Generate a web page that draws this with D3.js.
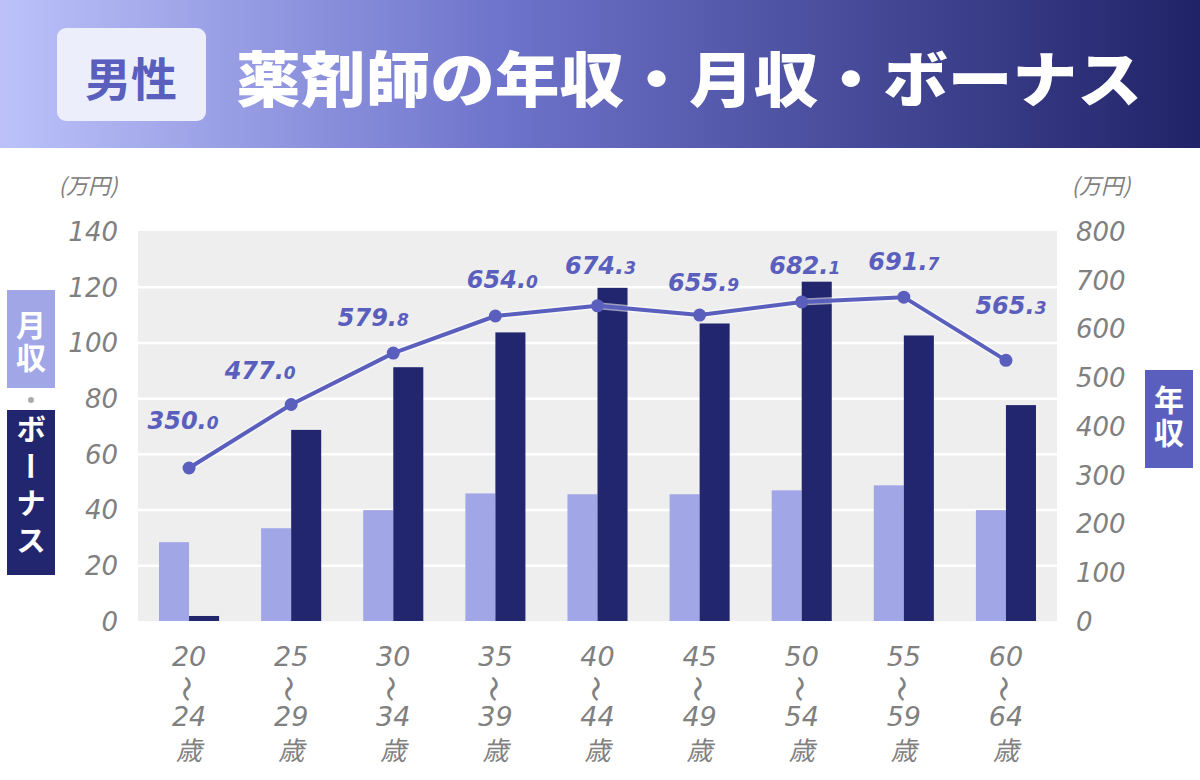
<!DOCTYPE html>
<html>
<head>
<meta charset="utf-8">
<script src="https://cdn.jsdelivr.net/npm/d3@7/dist/d3.min.js"></script>
<style>
  html, body { margin: 0; padding: 0; background: #ffffff; }
  svg { display: block; }
</style>
</head>
<body>
<svg id="chart" width="1200" height="780"></svg>
<script>
// ---- data ----
const ageStart = ["20", "25", "30", "35", "40", "45", "50", "55", "60"];
const ageEnd   = ["24", "29", "34", "39", "44", "49", "54", "59", "64"];
const categories = ageStart.map((s, i) => s + "〜" + ageEnd[i] + "歳");
const monthlyPay = [28.3, 33.3, 39.8, 45.8, 45.5, 45.5, 46.9, 48.7, 39.8];   // 月収 (万円)
const bonusPay   = [1.8, 68.6, 91.1, 103.6, 119.6, 106.8, 121.8, 102.5, 77.5]; // ボーナス (万円)
const annualPay  = [350.0, 477.0, 579.8, 654.0, 674.3, 655.9, 682.1, 691.7, 565.3]; // 年収 (万円)
const leftTicks  = [0, 20, 40, 60, 80, 100, 120, 140];
const rightTicks = [0, 100, 200, 300, 400, 500, 600, 700, 800];

// ---- layout (not data) ----
const plot = { left: 138, right: 1057, top: 231, bottom: 621 };
const labelNudge = [[-6, -48], [-31, -35], [-20, -36], [7, -37], [3, -41], [4, -33], [3, -37], [0, -36], [5, -55]];
const C = {
  monthly: "#a0a6e6", bonus: "#22266e", line: "#5a5fbd",
  plotBg: "#eeeeee", axisText: "#808080"
};
const numFont = "'DejaVu Sans', Verdana, sans-serif";
const jpFont = "'Noto Sans CJK JP', 'Noto Sans', sans-serif";

const svg = d3.select("#chart");

// ---- header ----
const defs = svg.append("defs");
const grad = defs.append("linearGradient").attr("id", "hdr").attr("x1", "0").attr("x2", "1").attr("y1", "0").attr("y2", "0");
grad.append("stop").attr("offset", "0").attr("stop-color", "#bcc2f9");
grad.append("stop").attr("offset", "0.42").attr("stop-color", "#6e73cb");
grad.append("stop").attr("offset", "1").attr("stop-color", "#212368");
svg.append("rect").attr("x", 0).attr("y", 0).attr("width", 1200).attr("height", 148).attr("fill", "url(#hdr)");
svg.append("rect").attr("x", 57).attr("y", 28).attr("width", 149).attr("height", 93).attr("rx", 9)
  .attr("fill", "#eceefc");
svg.append("text").attr("x", 131).attr("y", 76).attr("text-anchor", "middle").attr("dominant-baseline", "central")
  .attr("font-family", jpFont).attr("font-weight", 700).attr("font-size", 46).attr("fill", C.line)
  .text("男性");
svg.append("text").attr("x", 236).attr("y", 75).attr("dominant-baseline", "central")
  .attr("font-family", jpFont).attr("font-weight", 900).attr("font-size", 60).attr("fill", "#ffffff")
  .attr("textLength", 906).attr("lengthAdjust", "spacingAndGlyphs")
  .text("薬剤師の年収・月収・ボーナス");

// ---- scales ----
const x = d3.scaleBand().domain(categories).range([plot.left, plot.right]).padding(0);
const xSub = d3.scaleBand().domain(["monthly", "bonus"]).range([0, x.bandwidth()]).paddingInner(0).paddingOuter(0.7);
const yL = d3.scaleLinear().domain([0, 140]).range([plot.bottom, plot.top]);
const yR = d3.scaleLinear().domain([0, 800]).range([plot.bottom, plot.top]);
// the line in the reference sits on its own (offset) scale
const yLine = d3.scaleLinear().domain([0, 800]).range([643, 243]);

// ---- plot background & grid ----
svg.append("rect").attr("x", plot.left).attr("y", plot.top)
  .attr("width", plot.right - plot.left).attr("height", plot.bottom - plot.top).attr("fill", C.plotBg);

const grid = svg.append("g").attr("transform", `translate(${plot.left},0)`)
  .call(d3.axisLeft(yL).tickValues(leftTicks.filter(t => t > 0 && t < 140)).tickSize(-(plot.right - plot.left)).tickFormat(""));
grid.select(".domain").remove();
grid.selectAll("line").attr("stroke", "#ffffff").attr("stroke-width", 2.5);

// ---- bars ----
const groups = svg.append("g").selectAll("g").data(categories).join("g")
  .attr("transform", d => `translate(${x(d)},0)`);
groups.append("rect")
  .attr("x", xSub("monthly")).attr("width", xSub.bandwidth())
  .attr("y", (d, i) => yL(monthlyPay[i])).attr("height", (d, i) => yL(0) - yL(monthlyPay[i]))
  .attr("fill", C.monthly);
groups.append("rect")
  .attr("x", xSub("bonus")).attr("width", xSub.bandwidth())
  .attr("y", (d, i) => yL(bonusPay[i])).attr("height", (d, i) => yL(0) - yL(bonusPay[i]))
  .attr("fill", C.bonus);

// ---- line ----
const cx = d => x(d) + x.bandwidth() / 2;
const lineGen = d3.line().x((d, i) => cx(categories[i])).y(d => yLine(d));
svg.append("path").datum(annualPay).attr("d", lineGen).attr("fill", "none")
  .attr("stroke", "rgba(255,255,255,0.55)").attr("stroke-width", 7).attr("stroke-linejoin", "round");
svg.append("path").datum(annualPay).attr("d", lineGen).attr("fill", "none")
  .attr("stroke", C.line).attr("stroke-width", 4).attr("stroke-linejoin", "round");
svg.append("g").selectAll("circle").data(annualPay).join("circle")
  .attr("cx", (d, i) => cx(categories[i])).attr("cy", d => yLine(d)).attr("r", 6.5)
  .attr("fill", C.line);

// ---- line labels ----
const lbl = svg.append("g").selectAll("text").data(annualPay).join("text")
  .attr("x", (d, i) => cx(categories[i]) + labelNudge[i][0])
  .attr("y", (d, i) => yLine(d) + labelNudge[i][1] + 9)
  .attr("text-anchor", "middle")
  .attr("font-family", numFont).attr("font-weight", 700).attr("font-style", "italic")
  .attr("fill", C.line);
lbl.append("tspan").attr("font-size", 24).text(d => d.toFixed(1).split(".")[0] + ".");
lbl.append("tspan").attr("font-size", 17).text(d => d.toFixed(1).split(".")[1]);

// ---- axes ----
const axL = svg.append("g").attr("transform", `translate(${plot.left - 20},0)`)
  .call(d3.axisLeft(yL).tickValues(leftTicks).tickSize(0).tickPadding(0));
axL.select(".domain").remove();
axL.selectAll("text").attr("font-family", numFont).attr("font-style", "italic").attr("font-size", 26)
  .attr("fill", C.axisText).attr("dy", "0.36em");

const axR = svg.append("g").attr("transform", `translate(${plot.right + 19},0)`)
  .call(d3.axisRight(yR).tickValues(rightTicks).tickSize(0).tickPadding(0));
axR.select(".domain").remove();
axR.selectAll("text").attr("font-family", numFont).attr("font-style", "italic").attr("font-size", 26)
  .attr("fill", C.axisText).attr("dy", "0.36em");

// units
[[88, "(万円)"], [1101, "(万円)"]].forEach(([ux, t]) => {
  svg.append("text").attr("x", ux).attr("y", 194).attr("text-anchor", "middle")
    .attr("font-family", jpFont).attr("font-style", "italic").attr("font-size", 22)
    .attr("fill", C.axisText).text(t);
});

// ---- x labels ----
const xl = svg.append("g").selectAll("g").data(categories).join("g")
  .attr("transform", d => `translate(${cx(d)},0)`)
  .attr("fill", C.axisText);
const xt = xl.append("text").attr("text-anchor", "middle").attr("font-style", "italic").attr("font-size", 27);
xt.append("tspan").attr("x", 0).attr("y", 666).attr("font-family", numFont).text((d, i) => ageStart[i]);
xt.append("tspan").attr("x", 0).attr("y", 726).attr("font-family", numFont).text((d, i) => ageEnd[i]);
xt.append("tspan").attr("x", 0).attr("y", 760).attr("font-family", jpFont).attr("font-size", 26).text("歳");
xl.append("text").attr("transform", "translate(-1,689) rotate(90) skewX(-12)").attr("text-anchor", "middle")
  .attr("dominant-baseline", "central").attr("font-family", jpFont).attr("font-weight", 500).attr("font-size", 26)
  .text("〜");

// ---- vertical legend boxes (single vertical text each) ----
function vbox(x0, y0, w, h, fill, label, size, spacing, yStart) {
  svg.append("rect").attr("x", x0).attr("y", y0).attr("width", w).attr("height", h).attr("fill", fill);
  svg.append("text")
    .attr("x", x0 + w / 2).attr("y", yStart)
    .style("writing-mode", "vertical-rl")
    .style("text-orientation", "upright")
    .style("letter-spacing", spacing + "px")
    .attr("font-family", "'Noto Sans CJK JP', sans-serif").attr("font-weight", 700).attr("font-size", size)
    .attr("fill", "#ffffff")
    .text(label);
}
vbox(7, 290, 48, 98, C.monthly, "月収", 30, 3, 310);
svg.append("circle").attr("cx", 31).attr("cy", 400).attr("r", 3).attr("fill", "#aaaaaa");
vbox(7, 410, 48, 165, C.bonus, "ボーナス", 30, 7, 414);
vbox(1145, 370, 48, 98, C.line, "年収", 30, 3, 385);
</script>
</body>
</html>
